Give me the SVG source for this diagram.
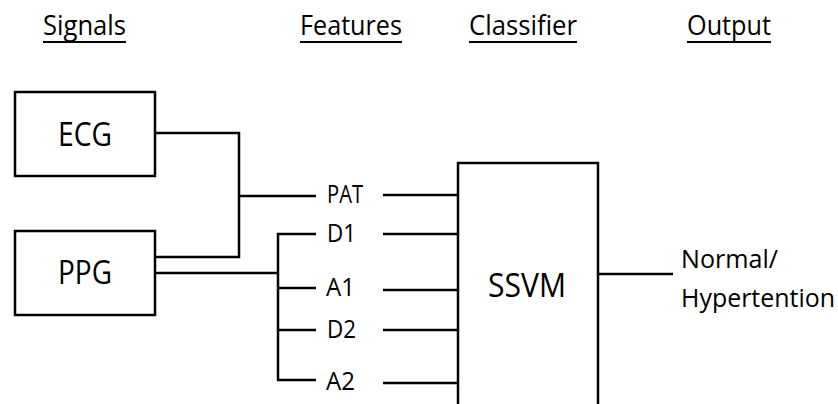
<svg xmlns="http://www.w3.org/2000/svg" width="838" height="404" viewBox="0 0 838 404">
<style>
text{font-family:"Open Sans","Noto Sans","Liberation Sans",sans-serif;fill:#000}
.h{font-size:27px}
.b{font-size:32px}
.f{font-size:25px}
.o{font-size:25px}
.box{fill:#fff;stroke:#000;stroke-width:2.5}
.ln{fill:none;stroke:#000;stroke-width:2.5}
.ul{stroke:#000;stroke-width:1.8}
</style>
<rect width="838" height="404" fill="#fff"/>
<g id="headers">
<text class="h" x="43" y="35" textLength="83" lengthAdjust="spacingAndGlyphs">Signals</text>
<line class="ul" x1="43" y1="42" x2="126" y2="42"/>
<text class="h" x="300" y="35" textLength="102" lengthAdjust="spacingAndGlyphs">Features</text>
<line class="ul" x1="300" y1="42" x2="402" y2="42"/>
<text class="h" x="469" y="35" textLength="108" lengthAdjust="spacingAndGlyphs">Classifier</text>
<line class="ul" x1="469" y1="42" x2="577" y2="42"/>
<text class="h" x="687" y="35" textLength="84" lengthAdjust="spacingAndGlyphs">Output</text>
<line class="ul" x1="687" y1="42" x2="771" y2="42"/>
</g>
<g id="connectors">
<polyline class="ln" points="155,133 239,133 239,257 155,257"/>
<line class="ln" x1="239" y1="196" x2="316" y2="196"/>
<line class="ln" x1="155" y1="273" x2="278" y2="273"/>
<polyline class="ln" points="316,234 278,234 278,380 316,380"/>
<line class="ln" x1="278" y1="288" x2="316" y2="288"/>
<line class="ln" x1="278" y1="330" x2="316" y2="330"/>
<line class="ln" x1="383" y1="195" x2="458" y2="195"/>
<line class="ln" x1="383" y1="234" x2="458" y2="234"/>
<line class="ln" x1="383" y1="290" x2="458" y2="290"/>
<line class="ln" x1="383" y1="330" x2="458" y2="330"/>
<line class="ln" x1="383" y1="383" x2="458" y2="383"/>
<line class="ln" x1="598" y1="274" x2="673" y2="274"/>
</g>
<g id="ecg">
<rect class="box" x="15" y="92" width="140" height="84"/>
<text class="b" x="58" y="146" textLength="54" lengthAdjust="spacingAndGlyphs">ECG</text>
</g>
<g id="ppg">
<rect class="box" x="15" y="231" width="140" height="84"/>
<text class="b" x="58" y="284" textLength="54" lengthAdjust="spacingAndGlyphs">PPG</text>
</g>
<g id="features">
<text class="f" x="327" y="203" textLength="36" lengthAdjust="spacingAndGlyphs">PAT</text>
<text class="f" x="327" y="242" textLength="29" lengthAdjust="spacingAndGlyphs">D1</text>
<text class="f" x="326" y="296" textLength="29" lengthAdjust="spacingAndGlyphs">A1</text>
<text class="f" x="327" y="338" textLength="29" lengthAdjust="spacingAndGlyphs">D2</text>
<text class="f" x="326" y="390" textLength="29" lengthAdjust="spacingAndGlyphs">A2</text>
</g>
<g id="ssvm">
<rect class="box" x="458" y="163" width="140" height="260"/>
<text class="b" x="488" y="297" textLength="78" lengthAdjust="spacingAndGlyphs">SSVM</text>
</g>
<g id="output">
<text class="o" x="681" y="268" textLength="97" lengthAdjust="spacingAndGlyphs">Normal/</text>
<text class="o" x="681" y="307" textLength="154" lengthAdjust="spacingAndGlyphs">Hypertention</text>
</g>
</svg>
